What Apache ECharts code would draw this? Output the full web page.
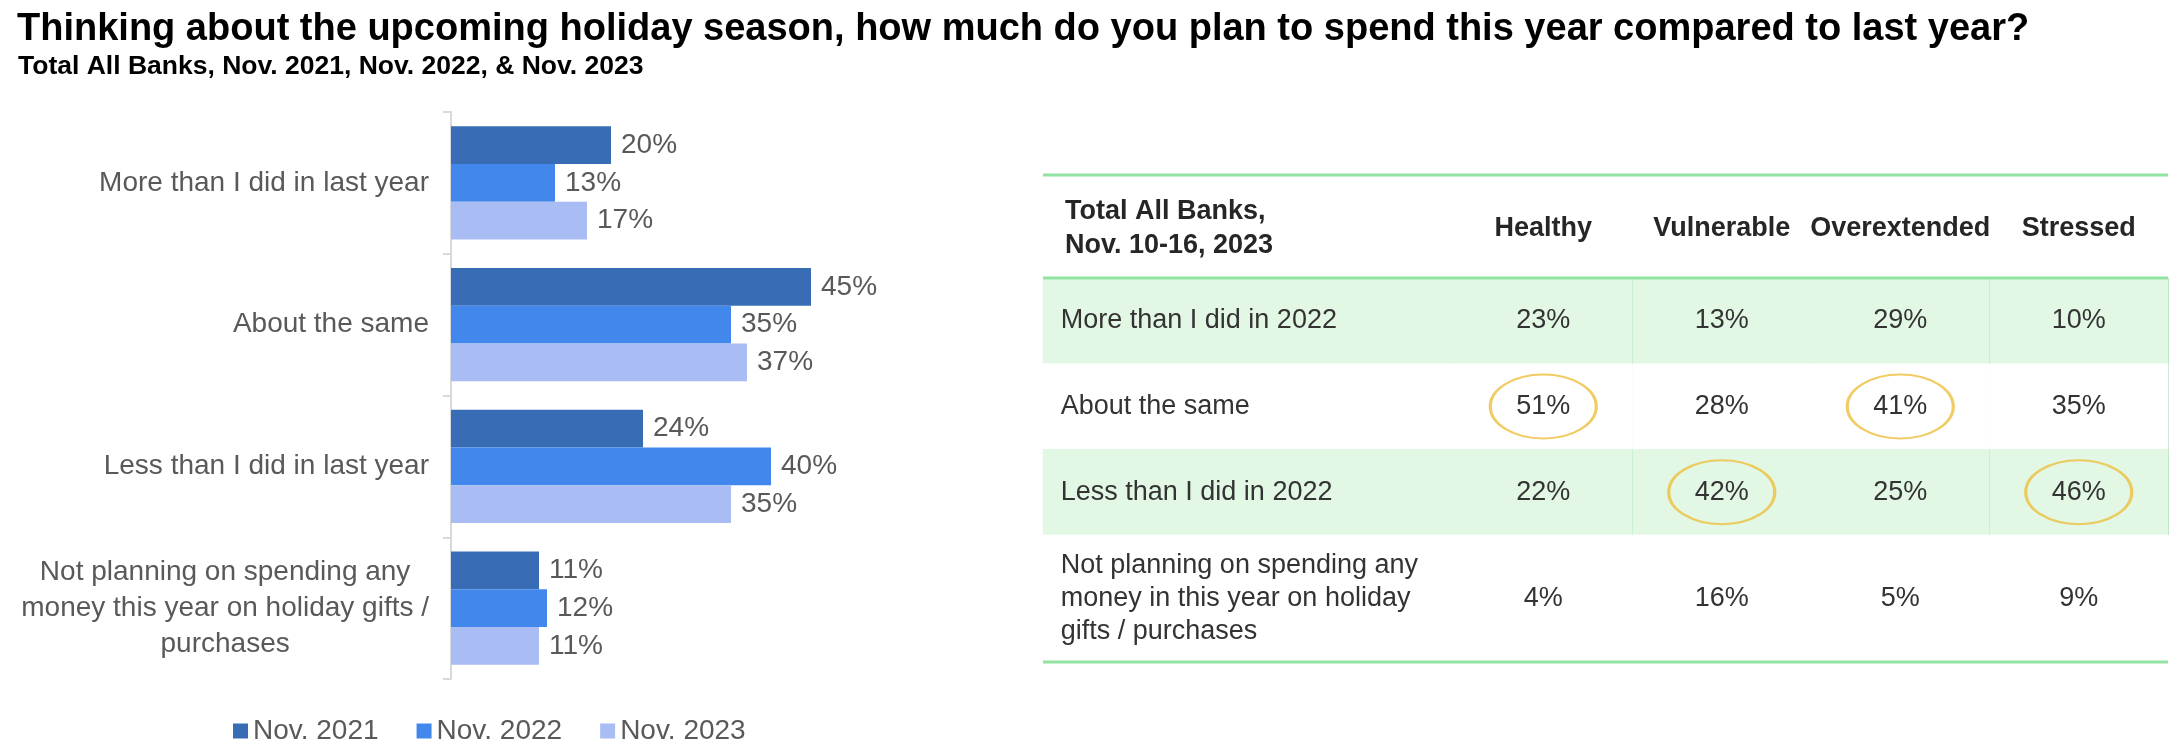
<!DOCTYPE html>
<html>
<head>
  <meta charset="utf-8">
  <title>Holiday spending</title>
  <script src="https://cdn.jsdelivr.net/npm/echarts@6.0.0/dist/echarts.min.js"></script>
  <style>
    html, body { margin: 0; padding: 0; background: #fff; }
    #main { width: 2180px; height: 756px; }
  </style>
</head>
<body>
<div id="main"></div>
<script>
// bar chart data (left)
const barCategories = [
  'More than I did in last year',
  'About the same',
  'Less than I did in last year',
  'Not planning on spending any\nmoney this year on holiday gifts /\npurchases'
]
const seriesNames = ['Nov. 2021', 'Nov. 2022', 'Nov. 2023']
const nov2021 = [20, 45, 24, 11]
const nov2022 = [13, 35, 40, 12]
const nov2023 = [17, 37, 35, 11]

// table data (right)
const segments = ['Healthy', 'Vulnerable', 'Overextended', 'Stressed']
const tableRows = [
  'More than I did in 2022',
  'About the same',
  'Less than I did in 2022',
  'Not planning on spending any\nmoney in this year on holiday\ngifts / purchases'
]
const healthy = [23, 51, 22, 4]
const vulnerable = [13, 28, 42, 16]
const overextended = [29, 41, 25, 5]
const stressed = [10, 35, 46, 9]
// [segment index, row index] of the circled cells
const circled = [[0, 1], [2, 1], [1, 2], [3, 2]]

const font = 'Liberation Sans, Arial, sans-serif'
const barColors = ['#386CB4', '#4287EC', '#A9BCF4']
const greyText = '#595959'
const darkText = '#262626'
const shadeFill = 'rgba(207,243,212,0.6)'   // reads as #E2F8E5 on white
const ruleColor = '#92E3A2'

// table layout (px)
const tLeft = 1043, tSplit = 1454, tRight = 2168
const tTop = 175, tHead = 278, tRow4 = 535, tBottom = 662

const columns = [healthy, vulnerable, overextended, stressed]

function rowFill(r) {
  return r % 2 === 0 ? shadeFill : '#ffffff'
}

function valueCells(rowFrom, rowTo) {
  let cells = []
  columns.forEach((col, c) => {
    for (let r = rowFrom; r < rowTo; r++) {
      cells.push({ value: [c, r - rowFrom, col[r]], itemStyle: { color: rowFill(r) } })
    }
  })
  return cells
}

function labelCells(rowFrom, rowTo) {
  let cells = []
  for (let r = rowFrom; r < rowTo; r++) {
    cells.push({ value: [0, r - rowFrom, r], itemStyle: { color: rowFill(r) } })
  }
  return cells
}

const tableLabel = {
  show: true,
  fontFamily: font,
  fontSize: 27,
  color: '#333333'
}

const chart = echarts.init(document.getElementById('main'), null, { renderer: 'canvas' })

const option = {
  backgroundColor: '#ffffff',
  animation: false,
  textStyle: { fontFamily: font },
  title: [
    {
      text: 'Thinking about the upcoming holiday season, how much do you plan to spend this year compared to last year?',
      left: 12, top: 6,
      textStyle: { fontFamily: font, fontSize: 38, fontWeight: 'bold', color: '#000' }
    },
    {
      text: 'Total All Banks, Nov. 2021, Nov. 2022, & Nov. 2023',
      left: 13, top: 48,
      textStyle: { fontFamily: font, fontSize: 26.5, fontWeight: 'bold', color: '#000' }
    },
    {
      text: 'Total All Banks,\nNov. 10-16, 2023',
      left: 1060, top: 190,
      textStyle: { fontFamily: font, fontSize: 27, fontWeight: 'bold', color: darkText, lineHeight: 34 }
    }
  ],
  legend: {
    data: seriesNames,
    left: 228, top: 712,
    icon: 'rect',
    itemWidth: 15, itemHeight: 15,
    itemGap: 38,
    textStyle: { fontFamily: font, fontSize: 28, color: greyText }
  },
  grid: [
    { left: 451, top: 112, width: 480, height: 567 },
    { left: tLeft, top: tHead, width: tSplit - tLeft, height: tRow4 - tHead },
    { left: tSplit, top: tHead, width: tRight - tSplit, height: tRow4 - tHead },
    { left: tLeft, top: tRow4, width: tSplit - tLeft, height: tBottom - tRow4 },
    { left: tSplit, top: tRow4, width: tRight - tSplit, height: tBottom - tRow4 }
  ],
  xAxis: [
    { gridIndex: 0, type: 'value', min: 0, max: 60, show: false },
    { gridIndex: 1, type: 'category', data: [''], show: false },
    {
      gridIndex: 2, type: 'category', data: segments, position: 'top',
      axisLine: { show: false }, axisTick: { show: false },
      axisLabel: { interval: 0, hideOverlap: false, margin: 36, fontFamily: font, fontSize: 27, fontWeight: 'bold', color: darkText },
      splitLine: { show: true, interval: (i) => i === 1 || i === 3, lineStyle: { color: '#BDE4CA', width: 1 } }
    },
    { gridIndex: 3, type: 'category', data: [''], show: false },
    { gridIndex: 4, type: 'category', data: segments, show: false }
  ],
  yAxis: [
    {
      gridIndex: 0, type: 'category', data: barCategories, inverse: true,
      axisLine: { lineStyle: { color: '#D9D9D9', width: 2 } },
      axisTick: { show: true, length: 8, lineStyle: { color: '#D9D9D9', width: 2 } },
      axisLabel: {
        interval: 0,
        margin: 22,
        formatter: (v) => v.split('\n').map(s => '{c|' + s + '}').join('\n'),
        rich: { c: { align: 'center', fontFamily: font, fontSize: 28, color: greyText, lineHeight: 36 } }
      }
    },
    { gridIndex: 1, type: 'category', data: tableRows.slice(0, 3), inverse: true, show: false },
    { gridIndex: 2, type: 'category', data: tableRows.slice(0, 3), inverse: true, show: false },
    { gridIndex: 3, type: 'category', data: tableRows.slice(3), inverse: true, show: false },
    { gridIndex: 4, type: 'category', data: tableRows.slice(3), inverse: true, show: false }
  ],
  series: [
    ...[nov2021, nov2022, nov2023].map((vals, i) => ({
      name: seriesNames[i],
      type: 'bar',
      xAxisIndex: 0, yAxisIndex: 0,
      data: vals,
      barGap: '0%',
      barCategoryGap: '20%',
      itemStyle: { color: barColors[i] },
      label: {
        show: true, position: 'right', distance: 10,
        formatter: '{c}%',
        fontFamily: font, fontSize: 28, color: greyText
      }
    })),
    {
      type: 'heatmap', xAxisIndex: 1, yAxisIndex: 1,
      data: labelCells(0, 3),
      label: Object.assign({}, tableLabel, { position: 'insideLeft', distance: 18, formatter: (p) => tableRows[p.value[2]] }),
      emphasis: { disabled: true }
    },
    {
      type: 'heatmap', xAxisIndex: 2, yAxisIndex: 2,
      data: valueCells(0, 3),
      label: Object.assign({}, tableLabel, { formatter: (p) => p.value[2] + '%' }),
      emphasis: { disabled: true }
    },
    {
      type: 'heatmap', xAxisIndex: 3, yAxisIndex: 3,
      data: labelCells(3, 4),
      label: Object.assign({}, tableLabel, { position: 'insideLeft', distance: 18, lineHeight: 33, formatter: (p) => tableRows[p.value[2]] }),
      emphasis: { disabled: true }
    },
    {
      type: 'heatmap', xAxisIndex: 4, yAxisIndex: 4,
      data: valueCells(3, 4),
      label: Object.assign({}, tableLabel, { formatter: (p) => p.value[2] + '%' }),
      emphasis: { disabled: true }
    },
    {
      type: 'scatter', xAxisIndex: 2, yAxisIndex: 2,
      data: circled,
      symbol: 'path://M0,50 A50,50 0 1,1 100,50 A50,50 0 1,1 0,50 Z',
      symbolSize: [106, 64],
      itemStyle: { color: 'rgba(0,0,0,0)', borderColor: '#EDBE3C', borderWidth: 2.5 },
      emphasis: { disabled: true },
      z: 5
    }
  ],
  graphic: [tTop, tHead, tBottom].map(y => ({
    type: 'line',
    z: 10,
    shape: { x1: tLeft, y1: y, x2: tRight, y2: y },
    style: { stroke: ruleColor, lineWidth: 3 }
  }))
}

chart.setOption(option)
</script>
</body>
</html>
